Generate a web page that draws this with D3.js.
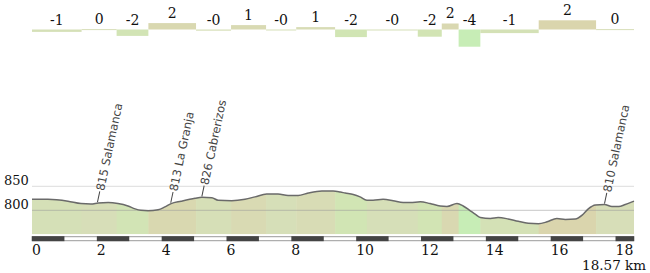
<!DOCTYPE html>
<html>
<head>
<meta charset="utf-8">
<script src="https://cdn.jsdelivr.net/npm/d3@7"></script>
<style>
  body { margin: 0; background: #fff; }
  svg { display: block; }
</style>
</head>
<body>
<div id="chart"></div>
<script>
// profile points: distance (km) and elevation (m)
let dist = [0, 0.49, 1.11, 1.51, 1.82, 2.04, 2.35, 2.65, 2.96, 3.18, 3.36, 3.58, 3.89, 4.10, 4.29, 4.60,
  5.03, 5.24, 5.55, 5.74, 6.16, 6.57, 6.88, 7.24, 7.59, 7.90, 8.21, 8.52, 8.94, 9.29, 9.51, 9.66, 9.91,
  10.12, 10.33, 10.52, 10.83, 11.14, 11.45, 11.67, 11.98, 12.28, 12.59, 12.80, 13.11, 13.30, 13.52, 13.67,
  13.83, 14.14, 14.38, 14.69, 15.00, 15.31, 15.62, 15.89, 16.19, 16.45, 16.76, 16.97, 17.16, 17.38, 17.66,
  17.89, 18.10, 18.30, 18.57]
let elev = [823, 823, 819, 814, 813, 815, 816, 814, 809, 803, 800, 799, 801, 807, 814, 819,
  825, 827, 826, 821, 820, 823, 828, 834, 834, 831, 831, 836, 840, 840, 838, 836, 833,
  828, 821, 821, 823, 820, 816, 816, 818, 814, 809, 808, 814, 809, 799, 792,
  785, 783, 785, 782, 777, 773, 772, 776, 783, 781, 782, 790, 803, 811, 812,
  808, 808, 812, 819]

// slope segments
let segBreaks = [0, 1.53, 2.61, 3.59, 5.06, 6.14, 7.22, 8.15, 9.35, 10.33, 11.90, 12.64, 13.16, 13.83, 15.63, 17.40, 18.57]
let grades = [-0.6, 0.1, -1.6, 1.6, -0.3, 1.1, -0.2, 0.6, -1.9, -0.2, -1.8, 1.5, -4.3, -0.9, 2.3, 0.1]

// waypoints
let wpKm = [2.02, 4.28, 5.24, 17.66]
let wpLabels = ['815 Salamanca', '813 La Granja', '826 Cabrerizos', '810 Salamanca']

let xTicks = [0, 2, 4, 6, 8, 10, 12, 14, 16, 18]
let yTicks = [800, 850]
let totalKm = 18.57

let width = 650
let height = 273
let serif = 'DejaVu Serif'

let svg = d3.select('#chart').append('svg')
  .attr('width', width)
  .attr('height', height)

let xScale = d3.scaleLinear().domain([0, totalKm]).range([32, 634])
let yScale = d3.scaleLinear().domain([750, 850]).range([234.3, 186.3])
let gradeScale = d3.scaleLinear().domain([0, 1]).range([29.5, 25.5])

let colorScale = d3.scaleLinear()
  .domain([-4, -2, 0, 2])
  .range(['#c8ecb6', '#d1e5b4', '#d7deb8', '#dad6ae'])

let points = dist.map((d, i) => ({ km: d, ele: elev[i] }))
let segments = grades.map((g, i) => ({ start: segBreaks[i], end: segBreaks[i + 1], grade: g }))

function gradeLabel(g) {
  let r = Math.round(g)
  if (r === 0 && g < 0) return '-0'
  return String(r)
}

// top slope bars
svg.selectAll('.grade-bar')
  .data(segments)
  .enter().append('rect')
  .attr('class', 'grade-bar')
  .attr('x', d => xScale(d.start))
  .attr('width', d => xScale(d.end) - xScale(d.start))
  .attr('y', d => d.grade > 0 ? gradeScale(d.grade) : gradeScale(0))
  .attr('height', d => Math.max(1, Math.abs(gradeScale(d.grade) - gradeScale(0))))
  .attr('fill', d => colorScale(d.grade))

svg.selectAll('.grade-label')
  .data(segments)
  .enter().append('text')
  .attr('class', 'grade-label')
  .attr('x', d => (xScale(d.start) + xScale(d.end)) / 2)
  .attr('y', d => d.grade > 0 ? gradeScale(d.grade) - 5.5 : gradeScale(0) - 5)
  .attr('text-anchor', 'middle')
  .style('font-family', serif)
  .style('font-size', '14px')
  .attr('fill', '#111')
  .text(d => gradeLabel(d.grade))

// gridline 850 behind the profile
svg.append('line')
  .attr('x1', xScale(0)).attr('x2', xScale(totalKm))
  .attr('y1', yScale(850)).attr('y2', yScale(850))
  .attr('stroke', '#dcdcdc')

// profile fill, coloured by segment
let area = d3.area()
  .x(d => xScale(d.km))
  .y0(yScale(750))
  .y1(d => yScale(d.ele))
  .curve(d3.curveMonotoneX)

svg.append('clipPath')
  .attr('id', 'profile-clip')
  .append('path')
  .datum(points)
  .attr('d', area)

svg.append('g')
  .attr('clip-path', 'url(#profile-clip)')
  .selectAll('rect')
  .data(segments)
  .enter().append('rect')
  .attr('x', d => xScale(d.start))
  .attr('width', d => xScale(d.end) - xScale(d.start) + 0.5)
  .attr('y', yScale(850) - 10)
  .attr('height', yScale(750) - yScale(850) + 10)
  .attr('fill', d => colorScale(d.grade))

// gridline 800 over the fill
svg.append('line')
  .attr('x1', xScale(0)).attr('x2', xScale(totalKm))
  .attr('y1', yScale(800)).attr('y2', yScale(800))
  .attr('stroke', '#999')
  .attr('stroke-opacity', 0.55)

let line = d3.line()
  .x(d => xScale(d.km))
  .y(d => yScale(d.ele))
  .curve(d3.curveMonotoneX)

svg.append('path')
  .datum(points)
  .attr('d', line)
  .attr('fill', 'none')
  .attr('stroke', '#6a6a6a')
  .attr('stroke-width', 1.5)

// y labels
svg.selectAll('.y-label')
  .data(yTicks)
  .enter().append('text')
  .attr('class', 'y-label')
  .attr('x', 4)
  .attr('y', d => yScale(d) - 1)
  .style('font-family', serif)
  .style('font-size', '13px')
  .attr('fill', '#111')
  .text(d => d)

// waypoints
let elevAt = km => {
  let i = d3.bisectLeft(dist, km)
  if (i <= 0) return elev[0]
  let t = (km - dist[i - 1]) / (dist[i] - dist[i - 1])
  return elev[i - 1] + t * (elev[i] - elev[i - 1])
}

let wp = svg.selectAll('.waypoint')
  .data(wpKm)
  .enter().append('g')
  .attr('class', 'waypoint')
  .attr('transform', d => `translate(${xScale(d)},${yScale(elevAt(d)) - 1}) rotate(-78)`)

wp.append('line')
  .attr('x1', 0).attr('x2', 11)
  .attr('y1', 0).attr('y2', 0)
  .attr('stroke', '#444')
  .attr('stroke-width', 1)

wp.append('text')
  .attr('x', 12)
  .attr('y', 0)
  .attr('dy', '0.35em')
  .style('font-family', 'DejaVu Sans')
  .style('font-size', '11.5px')
  .attr('fill', '#444')
  .text((d, i) => wpLabels[i])

// distance bar
let kmBlocks = d3.range(0, Math.ceil(totalKm), 2)
svg.append('rect')
  .attr('x', xScale(0)).attr('width', xScale(totalKm) - xScale(0))
  .attr('y', 236.7).attr('height', 4)
  .attr('fill', '#fff')
  .attr('stroke', '#9a9a9a')
  .attr('stroke-width', 1)

svg.selectAll('.km-block')
  .data(kmBlocks)
  .enter().append('rect')
  .attr('class', 'km-block')
  .attr('x', d => xScale(d))
  .attr('width', d => xScale(Math.min(d + 1, totalKm)) - xScale(d))
  .attr('y', 236.2).attr('height', 5)
  .attr('fill', '#444')

// x labels
svg.selectAll('.x-label')
  .data(xTicks)
  .enter().append('text')
  .attr('class', 'x-label')
  .attr('x', d => xScale(d))
  .attr('y', 255)
  .style('font-family', serif)
  .style('font-size', '14px')
  .attr('fill', '#111')
  .text(d => d)

svg.append('text')
  .attr('x', 646)
  .attr('y', 270)
  .attr('text-anchor', 'end')
  .style('font-family', serif)
  .style('font-size', '13.5px')
  .attr('fill', '#111')
  .text(totalKm + ' km')
</script>
</body>
</html>
